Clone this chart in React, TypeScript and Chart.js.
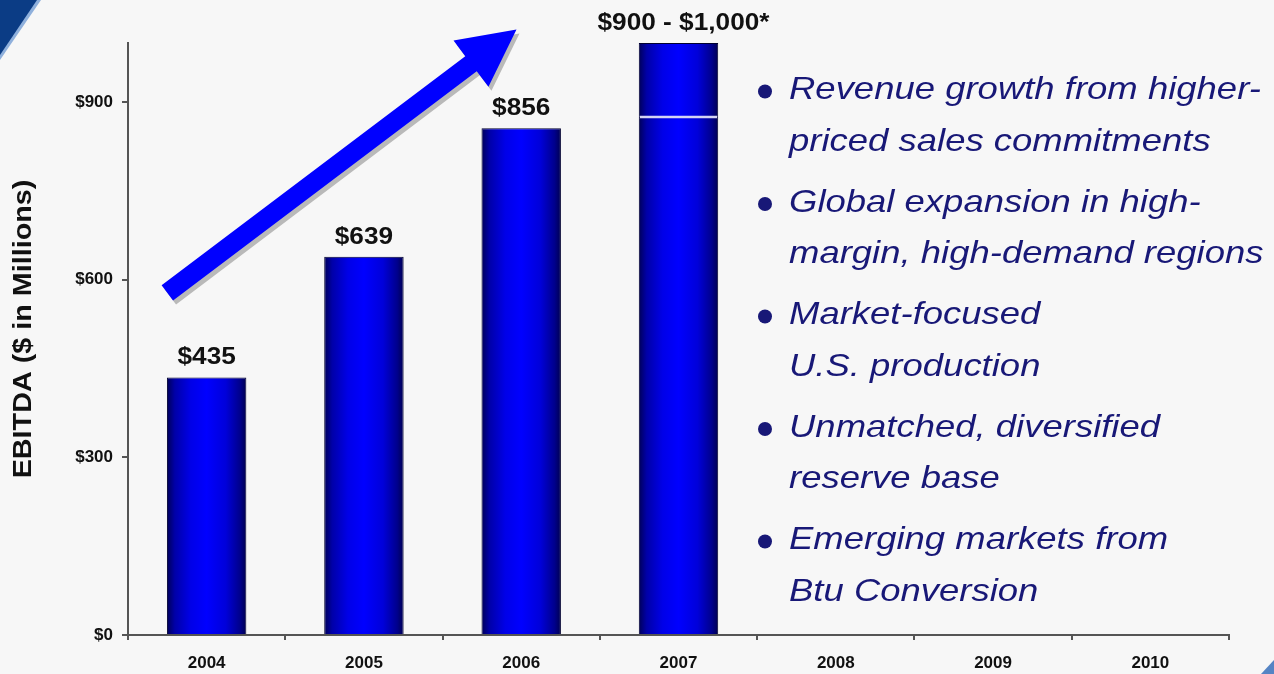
import React, { useEffect, useRef } from "react";
import { Chart, registerables } from "chart.js";

Chart.register(...registerables);

// ---------- data ----------
const years = ["2004", "2005", "2006", "2007", "2008", "2009", "2010"];
const ebitdaBase = [435, 639, 856, 875, null, null, null];
const ebitdaRangeTop = [null, null, null, 125, null, null, null];
const barLabels = ["$435", "$639", "$856", "$900 - $1,000*", "", "", ""];
const yTickValues = [0, 300, 600, 900];
const yMax = 1000;
const rangeSplitValue = 875;
const yTitle = "EBITDA ($ in Millions)";
const bullets = [
  ["Revenue growth from higher-", "priced sales commitments"],
  ["Global expansion in high-", "margin, high-demand regions"],
  ["Market-focused", "U.S. production"],
  ["Unmatched, diversified", "reserve base"],
  ["Emerging markets from", "Btu Conversion"],
];
// growth arrow, in data units (category index, $M)
const arrowFrom = { x: -0.25, y: 578 };
const arrowTo = { x: 1.97, y: 1023 };

const FONT = "'Liberation Sans', Arial, Helvetica, sans-serif";
const BAR_PCT = 0.505;

function barFill(c: any) {
  const chart = c.chart;
  const xs = chart.scales && chart.scales.x;
  if (!xs || !chart.chartArea) return "#0000dd";
  const cx = xs.getPixelForValue(c.dataIndex);
  const hw = ((xs.width / years.length) * BAR_PCT) / 2;
  const g = chart.ctx.createLinearGradient(cx - hw, 0, cx + hw, 0);
  g.addColorStop(0, "#000058");
  g.addColorStop(0.1, "#0000a8");
  g.addColorStop(0.3, "#0000e8");
  g.addColorStop(0.5, "#0000ff");
  g.addColorStop(0.74, "#0000da");
  g.addColorStop(0.92, "#00008c");
  g.addColorStop(1, "#000050");
  return g;
}

const decorPlugin = {
  id: "decor",
  beforeDraw(chart: any) {
    const { ctx, width, height } = chart;
    ctx.save();
    ctx.fillStyle = "#f7f7f7";
    ctx.fillRect(0, 0, width, height);
    // corner decorations
    ctx.fillStyle = "#8fb0dc";
    ctx.beginPath();
    ctx.moveTo(0, 0);
    ctx.lineTo(41, 0);
    ctx.lineTo(0, 60);
    ctx.closePath();
    ctx.fill();
    ctx.fillStyle = "#0b3c85";
    ctx.beginPath();
    ctx.moveTo(0, 0);
    ctx.lineTo(37, 0);
    ctx.lineTo(0, 55);
    ctx.closePath();
    ctx.fill();
    ctx.fillStyle = "#5584c4";
    ctx.beginPath();
    ctx.moveTo(width - 13, height);
    ctx.lineTo(width, height - 14);
    ctx.lineTo(width, height);
    ctx.closePath();
    ctx.fill();
    ctx.restore();
  },
  afterDatasetsDraw(chart: any) {
    const { ctx } = chart;
    const xs = chart.scales.x;
    const ys = chart.scales.y;
    ctx.save();

    // separator inside the range bar
    const m0 = chart.getDatasetMeta(0);
    const m1 = chart.getDatasetMeta(1);
    m1.data.forEach((el: any, i: number) => {
      if (ebitdaRangeTop[i] == null) return;
      const hw = el.width / 2;
      const y = ys.getPixelForValue(rangeSplitValue);
      ctx.strokeStyle = "#d4d4f4";
      ctx.lineWidth = 2.5;
      ctx.beginPath();
      ctx.moveTo(el.x - hw + 1, y);
      ctx.lineTo(el.x + hw - 1, y);
      ctx.stroke();
    });

    // value labels
    ctx.fillStyle = "#111";
    ctx.font = `bold 23px ${FONT}`;
    ctx.textAlign = "center";
    ctx.textBaseline = "alphabetic";
    years.forEach((_, i) => {
      if (!barLabels[i]) return;
      const el = ebitdaRangeTop[i] != null ? m1.data[i] : m0.data[i];
      const top = el.y;
      ctx.save();
      ctx.translate(el.x + (ebitdaRangeTop[i] != null ? 5 : 0), top - 13);
      ctx.scale(1.14, 1);
      ctx.fillText(barLabels[i], 0, 0);
      ctx.restore();
    });

    // growth arrow
    const T = { x: xs.getPixelForValue(arrowFrom.x), y: ys.getPixelForValue(arrowFrom.y) };
    const P = { x: xs.getPixelForValue(arrowTo.x), y: ys.getPixelForValue(arrowTo.y) };
    const len = Math.hypot(P.x - T.x, P.y - T.y);
    const u = { x: (P.x - T.x) / len, y: (P.y - T.y) / len };
    const n = { x: -u.y, y: u.x };
    const w = 9.5, H = 29, L = 57;
    const B = { x: P.x - u.x * L, y: P.y - u.y * L };
    const pts = [
      [T.x + n.x * w, T.y + n.y * w],
      [B.x + n.x * w, B.y + n.y * w],
      [B.x + n.x * H, B.y + n.y * H],
      [P.x, P.y],
      [B.x - n.x * H, B.y - n.y * H],
      [B.x - n.x * w, B.y - n.y * w],
      [T.x - n.x * w, T.y - n.y * w],
    ];
    const poly = (dx: number, dy: number, color: string) => {
      ctx.fillStyle = color;
      ctx.beginPath();
      pts.forEach((p, k) => (k ? ctx.lineTo(p[0] + dx, p[1] + dy) : ctx.moveTo(p[0] + dx, p[1] + dy)));
      ctx.closePath();
      ctx.fill();
    };
    poly(3, 4, "#b9b9b9");
    poly(0, 0, "#0000ff");

    // y-axis title
    ctx.save();
    ctx.translate(24, 329);
    ctx.rotate(-Math.PI / 2);
    ctx.scale(1.15, 1);
    ctx.fillStyle = "#111";
    ctx.font = `bold 25px ${FONT}`;
    ctx.textAlign = "center";
    ctx.textBaseline = "middle";
    ctx.fillText(yTitle, 0, 0);
    ctx.restore();

    // bullet list
    ctx.fillStyle = "#181877";
    ctx.font = `italic 32px ${FONT}`;
    ctx.textAlign = "left";
    ctx.textBaseline = "alphabetic";
    bullets.forEach((lines, i) => {
      const y0 = 99 + i * 112.5;
      ctx.beginPath();
      ctx.arc(765, y0 - 7.5, 7, 0, Math.PI * 2);
      ctx.fill();
      lines.forEach((line, k) => {
        ctx.save();
        ctx.translate(789, y0 + k * 51.5);
        ctx.scale(1.14, 1);
        ctx.fillText(line, 0, 0);
        ctx.restore();
      });
    });

    ctx.restore();
  },
};

export default function App() {
  const ref = useRef<HTMLCanvasElement | null>(null);
  useEffect(() => {
    if (!ref.current) return;
    document.body.style.margin = "0";
    const chart = new Chart(ref.current, {
      type: "bar",
      data: {
        labels: years,
        datasets: [
          {
            data: ebitdaBase as any,
            backgroundColor: barFill as any,
            borderColor: "#000030",
            borderWidth: 1,
            barPercentage: BAR_PCT,
            categoryPercentage: 1,
          },
          {
            data: ebitdaRangeTop as any,
            backgroundColor: barFill as any,
            borderColor: "#000030",
            borderWidth: 1,
            barPercentage: BAR_PCT,
            categoryPercentage: 1,
          },
        ],
      },
      options: {
        animation: false,
        responsive: false,
        devicePixelRatio: 1,
        layout: { padding: { top: 43, right: 45, left: 0, bottom: 0 } },
        plugins: {
          legend: { display: false },
          tooltip: { enabled: false },
          title: { display: false },
        },
        scales: {
          x: {
            stacked: true,
            grid: { offset: true, drawOnChartArea: false, color: "#555", tickLength: 5, lineWidth: 2 },
            border: { color: "#555", width: 2 },
            ticks: {
              color: "#111",
              font: { family: FONT, size: 17, weight: "bold" },
              padding: 13,
              maxRotation: 0,
            },
            afterFit: (s: any) => {
              s.height = 39;
            },
          },
          y: {
            stacked: true,
            min: 0,
            max: yMax,
            afterBuildTicks: (s: any) => {
              s.ticks = yTickValues.map((v) => ({ value: v }));
            },
            ticks: {
              color: "#111",
              font: { family: FONT, size: 17, weight: "bold" },
              padding: 9,
              callback: (v: any) => "$" + v,
            },
            grid: { drawOnChartArea: false, color: "#555", tickLength: 6, lineWidth: 2 },
            border: { color: "#555", width: 2 },
            afterFit: (s: any) => {
              s.width = 128;
            },
          },
        },
      } as any,
      plugins: [decorPlugin],
    });
    return () => chart.destroy();
  }, []);
  return (
    <div style={{ position: "absolute", left: 0, top: 0, width: 1274, height: 674 }}>
      <canvas ref={ref} width={1274} height={674} style={{ display: "block" }} />
    </div>
  );
}
